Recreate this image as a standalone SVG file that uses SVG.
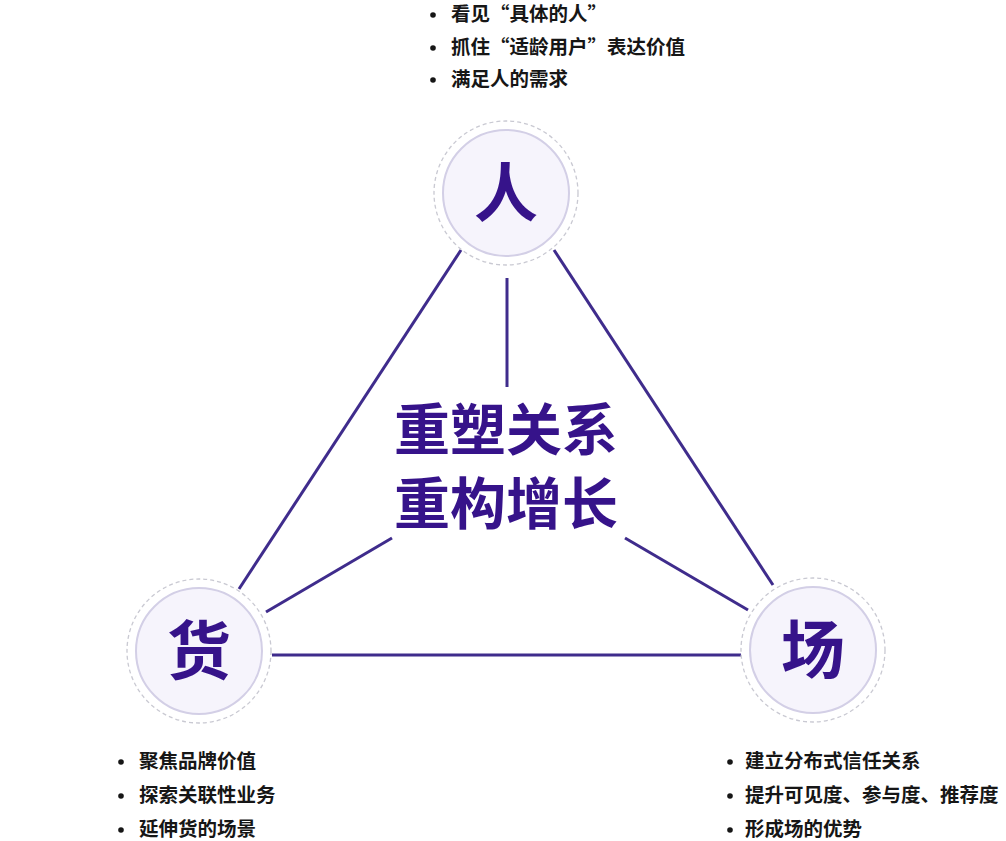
<svg xmlns="http://www.w3.org/2000/svg" width="1006" height="841" viewBox="0 0 1006 841">
<style>
.line{stroke:#3f2c8c;stroke-width:3;fill:none;stroke-linecap:butt}
.outer{fill:none;stroke:#c9c9d2;stroke-width:1.3;stroke-dasharray:4 3}
.inner{fill:#f6f4fc;stroke:#d3cfe6;stroke-width:2}
.lbl{font-family:"Noto Sans CJK SC","Noto Sans",sans-serif;font-weight:700;font-size:64px;fill:#36138a;text-anchor:middle}
.center{font-family:"Noto Sans CJK SC","Noto Sans",sans-serif;font-weight:700;font-size:56px;fill:#36138a;text-anchor:middle}
.item{font-family:"Noto Sans CJK SC","Noto Sans",sans-serif;font-weight:700;font-size:19.5px;fill:#161616}
.dot{fill:#161616}
</style>
<rect width="1006" height="841" fill="#ffffff"/>
<g id="connectors">
<line class="line" x1="461" y1="250" x2="239" y2="589"/>
<line class="line" x1="554" y1="250" x2="773" y2="585"/>
<line class="line" x1="272" y1="655" x2="741" y2="655"/>
<line class="line" x1="507" y1="278" x2="507" y2="387"/>
<line class="line" x1="266" y1="612" x2="392" y2="538"/>
<line class="line" x1="625" y1="538" x2="748" y2="610"/>
</g>
<g id="node-ren">
<circle class="outer" cx="506" cy="193" r="72"/>
<circle class="inner" cx="506" cy="193" r="63"/>
<text class="lbl" x="506" y="216">人</text>
</g>
<g id="node-huo">
<circle class="outer" cx="199" cy="651" r="72"/>
<circle class="inner" cx="199" cy="651" r="63"/>
<text class="lbl" x="199" y="674">货</text>
</g>
<g id="node-chang">
<circle class="outer" cx="813" cy="650" r="72"/>
<circle class="inner" cx="813" cy="650" r="63"/>
<text class="lbl" x="813" y="673">场</text>
</g>
<g id="center">
<text class="center" x="506" y="450">重塑关系</text>
<text class="center" x="506" y="524">重构增长</text>
</g>
<g id="list-ren">
<circle class="dot" cx="433" cy="15" r="2.8"/>
<text class="item" x="451" y="21">看见“具体的人”</text>
<circle class="dot" cx="433" cy="48" r="2.8"/>
<text class="item" x="451" y="54">抓住“适龄用户”表达价值</text>
<circle class="dot" cx="433" cy="80" r="2.8"/>
<text class="item" x="451" y="86">满足人的需求</text>
</g>
<g id="list-huo">
<circle class="dot" cx="121" cy="762" r="2.8"/>
<text class="item" x="139" y="768">聚焦品牌价值</text>
<circle class="dot" cx="121" cy="796" r="2.8"/>
<text class="item" x="139" y="802">探索关联性业务</text>
<circle class="dot" cx="121" cy="830" r="2.8"/>
<text class="item" x="139" y="836">延伸货的场景</text>
</g>
<g id="list-chang">
<circle class="dot" cx="730" cy="762" r="2.8"/>
<text class="item" x="745" y="768">建立分布式信任关系</text>
<circle class="dot" cx="730" cy="796" r="2.8"/>
<text class="item" x="745" y="802">提升可见度、参与度、推荐度</text>
<circle class="dot" cx="730" cy="830" r="2.8"/>
<text class="item" x="745" y="836">形成场的优势</text>
</g>
</svg>
